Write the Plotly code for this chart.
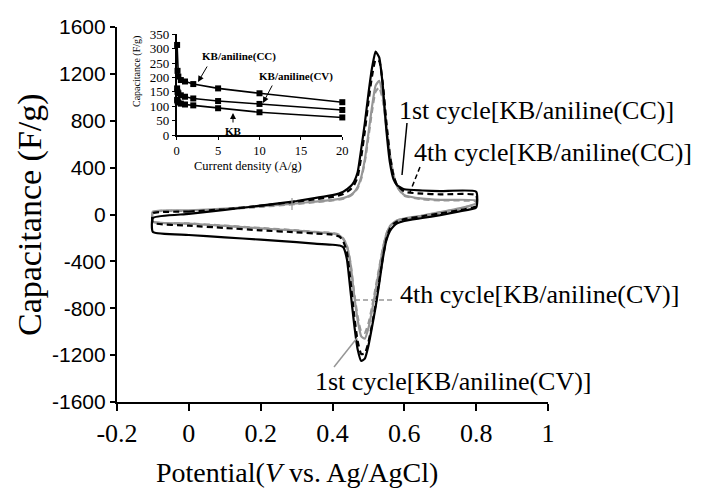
import plotly.graph_objects as go

# ---------------- data ----------------
fwd_V = [-0.1, 0.0, 0.1, 0.2, 0.3, 0.35, 0.4, 0.43, 0.45, 0.46, 0.47, 0.48, 0.49, 0.5,
         0.51, 0.52, 0.53, 0.54, 0.55, 0.56, 0.57, 0.58, 0.6, 0.65, 0.7, 0.8]
rev_V = [0.8, 0.75, 0.7, 0.65, 0.6, 0.58, 0.57, 0.56, 0.55, 0.54, 0.53, 0.52, 0.51, 0.5,
         0.49, 0.48, 0.47, 0.46, 0.45, 0.44, 0.43, 0.42, 0.4, 0.35, 0.3, 0.2, 0.1, 0.0, -0.1]

cc1_fwd = [-30, 5, 40, 75, 115, 140, 165, 195, 240, 280, 360, 560, 780, 1030, 1250, 1390,
           1340, 1100, 720, 440, 300, 250, 215, 205, 200, 195]
cc4_fwd = [10, 25, 45, 75, 110, 130, 150, 175, 215, 250, 320, 490, 710, 960, 1180, 1320,
           1310, 1120, 790, 500, 330, 250, 195, 178, 172, 165]
cv1_fwd = [25, 35, 50, 70, 95, 110, 125, 140, 165, 190, 235, 320, 470, 690, 920, 1100,
           1140, 1010, 760, 510, 340, 240, 165, 135, 125, 120]
cv4_fwd = [20, 30, 45, 65, 90, 105, 120, 135, 160, 185, 225, 305, 450, 660, 880, 1050,
           1085, 975, 740, 500, 335, 235, 160, 130, 120, 112]

cc1_rev = [60, 25, -5, -30, -55, -75, -100, -140, -220, -380, -590, -790, -960, -1120,
           -1230, -1250, -1150, -930, -650, -380, -280, -265, -258, -248, -235, -215, -195, -175, -150]
cc4_rev = [70, 35, 10, -15, -40, -60, -80, -120, -210, -370, -570, -770, -940, -1090,
           -1185, -1190, -1080, -850, -560, -320, -230, -190, -172, -162, -152, -135, -115, -95, -70]
cv1_rev = [95, 50, 20, -10, -35, -50, -70, -100, -170, -300, -470, -650, -820, -970,
           -1060, -1040, -900, -680, -420, -270, -210, -180, -162, -150, -138, -118, -97, -78, -60]
cv4_rev = [90, 48, 18, -12, -38, -52, -72, -100, -165, -290, -455, -625, -790, -930,
           -1010, -1000, -870, -660, -410, -265, -205, -175, -158, -147, -135, -115, -95, -76, -62]

# inset: capacitance vs current density
inset_I = [0.05, 0.1, 0.2, 0.5, 1, 2, 5, 10, 20]
inset_CC = [313, 223, 203, 191, 186, 177, 162, 145, 114]
inset_CV = [162, 150, 145, 138, 133, 127, 118, 108, 87]
inset_KB = [122, 117, 113, 109, 106, 103, 93, 79, 61]

x_ticks = [-0.2, 0, 0.2, 0.4, 0.6, 0.8, 1]
x_ticktext = ["-0.2", "0", "0.2", "0.4", "0.6", "0.8", "1"]
y_ticks = [-1600, -1200, -800, -400, 0, 400, 800, 1200, 1600]
y_ticktext = ["-1600", "-1200", "-800", "-400", "0", "400", "800", "1200", "1600"]
ins_x_ticks = [0, 5, 10, 15, 20]
ins_y_ticks = [0, 50, 100, 150, 200, 250, 300, 350]

# ---------------- layout helpers ----------------
# The page body has an 8px default margin, so the figure is drawn 8px smaller and
# all screen-pixel positions below are shifted by that offset.
OFF = 8
SCREEN_W, SCREEN_H = 701, 491
W, H = SCREEN_W - OFF, SCREEN_H - OFF
L, R, T, B = 117, 548, 27, 402          # plot area in screen pixels


def px(x):
    return (x - L) / (R - L)


def py(y):
    return (B - y) / (B - T)


SERIF = "Liberation Serif, Times New Roman, serif"
NARROW = "Liberation Sans Narrow, Arial Narrow, Liberation Sans, sans-serif"
GRAY = "rgb(150,150,150)"

fig = go.Figure()


def loop(fwd, rev):
    xs = fwd_V + rev_V + [fwd_V[0]]
    ys = fwd + rev + [fwd[0]]
    return xs, ys


curves = [
    (cv1_fwd, cv1_rev, GRAY, "solid"),
    (cv4_fwd, cv4_rev, GRAY, "6px,4px"),
    (cc1_fwd, cc1_rev, "black", "solid"),
    (cc4_fwd, cc4_rev, "black", "6px,4px"),
]
for f, r, c, d in curves:
    xs, ys = loop(f, r)
    fig.add_trace(go.Scatter(x=xs, y=ys, mode="lines",
                             line=dict(color=c, width=2.2, dash=d, shape="spline", smoothing=0.5),
                             xaxis="x", yaxis="y", showlegend=False, hoverinfo="skip"))

for ys in (inset_CC, inset_CV, inset_KB):
    fig.add_trace(go.Scatter(x=inset_I, y=ys, mode="lines+markers",
                             line=dict(color="black", width=1.6),
                             marker=dict(symbol="square", size=6, color="black"),
                             xaxis="x2", yaxis="y2", showlegend=False, cliponaxis=False,
                             hoverinfo="skip"))

annotations = []


def text(x, y, s, size, xanchor="left", family=SERIF, angle=0, color="black"):
    annotations.append(dict(x=px(x), y=py(y), xref="paper", yref="paper", text=s,
                            showarrow=False, xanchor=xanchor, yanchor="middle",
                            textangle=angle, font=dict(family=family, size=size, color=color)))


# main annotations
text(397, 111, "1st cycle[KB/aniline(CC)]", 26)
text(412, 152, "4th cycle[KB/aniline(CC)]", 26)
text(398, 294, "4th cycle[KB/aniline(CV)]", 26)
text(313, 381, "1st cycle[KB/aniline(CV)]", 26)

# axis titles
text(297, 472, "Potential(<i>V</i> vs. Ag/AgCl)", 28, xanchor="center")
text(30, 215, "Capacitance (F/g)", 34, xanchor="center", angle=-90)

# inset titles
text(248, 166, "Current density (A/g)", 12.5, xanchor="center")
text(137, 72, "Capacitance (F/g)", 10, xanchor="center", angle=-90)

# inset labels (bold)
text(200, 57, "<b>KB/aniline(CC)</b>", 11)
text(257, 77, "<b>KB/aniline(CV)</b>", 11)
text(233, 131, "<b>KB</b>", 11, xanchor="center")


def arrow(x0, y0, x1, y1):
    annotations.append(dict(x=px(x1), y=py(y1), xref="paper", yref="paper", text="",
                            showarrow=True, ax=x0 - x1, ay=y0 - y1, axref="pixel", ayref="pixel",
                            arrowhead=2, arrowsize=1.2, arrowwidth=1, arrowcolor="black"))


arrow(208, 65, 198, 82)
arrow(273, 84, 263, 103)
arrow(233, 124, 233, 113)

shapes = []


def seg(x0, y0, x1, y1, color, dash="solid", width=1.5):
    shapes.append(dict(type="line", xref="paper", yref="paper", x0=px(x0), y0=py(y0),
                       x1=px(x1), y1=py(y1), line=dict(color=color, width=width, dash=dash)))


seg(407, 123, 402, 175, "black")
seg(420, 167, 410, 192, "black", "5px,3px")
seg(392, 300, 355, 300, GRAY, "5px,3px")
seg(334, 367, 357, 338, GRAY)
seg(292, 198, 292, 210, GRAY, width=1.2)

axis_common = dict(showline=True, linecolor="black", ticks="outside", tickcolor="black",
                   showgrid=False, zeroline=False, automargin=False)

fig.update_layout(
    template="none",
    width=W, height=H,
    margin=dict(l=L - OFF, r=W - (R - OFF), t=T - OFF, b=H - (B - OFF), pad=0, autoexpand=False),
    paper_bgcolor="white", plot_bgcolor="white",
    annotations=annotations, shapes=shapes,
    xaxis=dict(domain=[0, 1], range=[-0.2, 1], tickvals=x_ticks, ticktext=x_ticktext,
               linewidth=2.2, ticklen=7, tickwidth=2,
               tickfont=dict(family=SERIF, size=26, color="black"), anchor="y", **axis_common),
    yaxis=dict(domain=[0, 1], range=[-1600, 1600], tickvals=y_ticks, ticktext=y_ticktext,
               linewidth=2.2, ticklen=5, tickwidth=2,
               tickfont=dict(family=NARROW, size=21, color="black"), anchor="x", **axis_common),
    xaxis2=dict(domain=[px(176.7), px(342.3)], range=[0, 20], tickvals=ins_x_ticks,
                linewidth=1.5, ticklen=3, tickwidth=1, anchor="y2",
                tickfont=dict(family=SERIF, size=12.5, color="black"), **axis_common),
    yaxis2=dict(domain=[py(135), py(34.3)], range=[0, 350], tickvals=ins_y_ticks,
                linewidth=1.5, ticklen=3, tickwidth=1, anchor="x2",
                tickfont=dict(family=SERIF, size=13, color="black"), **axis_common),
)

fig.write_html("out.html")
